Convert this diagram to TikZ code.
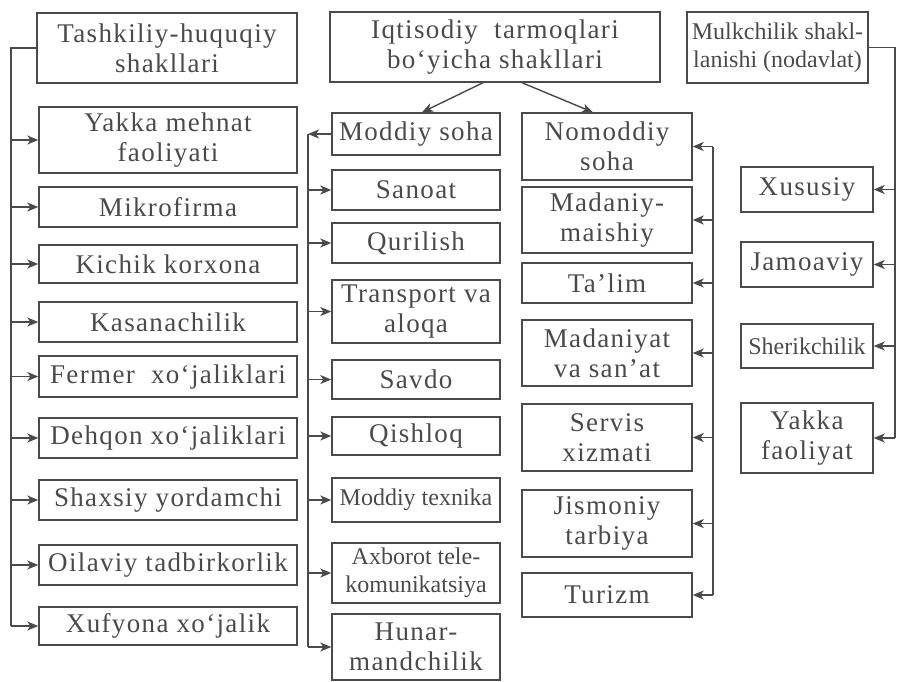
\documentclass[tikz,border=0pt]{standalone}
\usepackage{fontspec}
\setmainfont{Liberation Serif}[LetterSpace=5]
\newfontfamily\plainfont{Liberation Serif}
\usetikzlibrary{arrows.meta}
\definecolor{inkgray}{HTML}{4A4A4A}
\newcommand{\bigtxt}{\fontsize{27}{30}\selectfont}
\newcommand{\smalltxt}{\plainfont\fontsize{24}{28}\selectfont}
\tikzset{
  box/.style={draw=inkgray, line width=1.4pt, text=inkgray, align=center, inner sep=0pt, font=\bigtxt},
  tight/.style={font=\smalltxt},
  link/.style={draw=inkgray, line width=1.4pt}
}

\begin{document}
\begin{tikzpicture}[x=1pt, y=-1pt, >={Stealth[length=11pt, width=9pt, inset=3pt]}]
      \useasboundingbox (0, 0) rectangle (897, 681);
      \node [box, minimum width=260, minimum height=70] (th) at (167, 48) {Tashkiliy-huquqiy\\shakllari};
      \node [box, minimum width=258, minimum height=66] (ym) at (168, 140) {Yakka mehnat\\faoliyati};
      \node [box, minimum width=258, minimum height=40] (mf) at (168, 207) {Mikrofirma};
      \node [box, minimum width=258, minimum height=38] (kk) at (168, 264) {Kichik korxona};
      \node [box, minimum width=258, minimum height=40] (ks) at (168, 322) {Kasanachilik};
      \node [box, minimum width=258, minimum height=41] (fx) at (168, 376.5) {Fermer\ \ xo‘jaliklari};
      \node [box, minimum width=258, minimum height=40] (dx) at (168, 438) {Dehqon xo‘jaliklari};
      \node [box, minimum width=258, minimum height=40] (sy) at (168, 500) {Shaxsiy yordamchi};
      \node [box, minimum width=258, minimum height=40] (ot) at (168, 565) {Oilaviy tadbirkorlik};
      \node [box, minimum width=258, minimum height=38] (xx) at (168, 626) {Xufyona xo‘jalik};

      \node [box, minimum width=330, minimum height=70] (iq) at (495, 47) {Iqtisodiy\ \ tarmoqlari\\bo‘yicha shakllari};
      \node [box, minimum width=168, minimum height=42] (ms) at (416, 134) {Moddiy soha};
      \node [box, minimum width=168, minimum height=40] (sn) at (416, 190) {Sanoat};
      \node [box, minimum width=168, minimum height=40] (qu) at (416, 243) {Qurilish};
      \node [box, minimum width=168, minimum height=63] (tr) at (416, 311.5) {Transport va\\aloqa};
      \node [box, minimum width=168, minimum height=39] (sv) at (416, 379.5) {Savdo};
      \node [box, minimum width=168, minimum height=38] (qi) at (416, 436) {Qishloq};
      \node [box, tight, minimum width=168, minimum height=44] (mt) at (416, 500) {Moddiy texnika};
      \node [box, tight, minimum width=168, minimum height=60] (ax) at (416, 573) {Axborot tele-\\komunikatsiya};
      \node [box, minimum width=168, minimum height=66] (hu) at (416, 647) {Hunar-\\mandchilik};

      \node [box, minimum width=170, minimum height=67] (nm) at (607, 146.5) {Nomoddiy\\soha};
      \node [box, minimum width=170, minimum height=66] (mm) at (607, 220) {Madaniy-\\maishiy};
      \node [box, minimum width=170, minimum height=40] (tl) at (607, 283) {Ta’lim};
      \node [box, minimum width=170, minimum height=66] (mn) at (607, 353) {Madaniyat\\va san’at};
      \node [box, minimum width=170, minimum height=67] (sx) at (607, 437.5) {Servis\\xizmati};
      \node [box, minimum width=170, minimum height=67] (jt) at (607, 523.5) {Jismoniy\\tarbiya};
      \node [box, minimum width=170, minimum height=44] (tu) at (607, 595) {Turizm};

      \node [box, tight, minimum width=181, minimum height=71] (mk) at (777.5, 47.5) {Mulkchilik shakl-\\lanishi (nodavlat)};
      \node [box, minimum width=132, minimum height=45] (xu) at (807, 189.5) {Xususiy};
      \node [box, minimum width=132, minimum height=45] (ja) at (807, 264.5) {Jamoaviy};
      \node [box, tight, minimum width=132, minimum height=44] (sh) at (807, 346) {Sherikchilik};
      \node [box, minimum width=132, minimum height=70] (yf) at (807, 438) {Yakka\\faoliyat};

      \coordinate (lbot) at (11, 626);
      \coordinate (mtop) at (308, 134);
      \coordinate (mbot) at (308, 647);
      \coordinate (ntop) at (713, 146.5);
      \coordinate (nbot) at (713, 595);
      \coordinate (fbot) at (895, 438);

      \draw [link] (th.west) -| (lbot);
      \foreach \n in {ym, mf, kk, ks, fx, dx, sy, ot, xx}
        \draw [link, ->] (lbot |- \n.west) -- (\n.west);

      \draw [link, ->] ([xshift=-12]iq.south) -- ([xshift=6]ms.north);
      \draw [link, ->] ([xshift=27]iq.south) -- ([xshift=-14]nm.north);

      \draw [link, ->] (ms.west) -- (mtop);
      \draw [link] (mtop) -- (mbot);
      \foreach \n in {sn, qu, tr, sv, qi, mt, ax, hu}
        \draw [link, ->] (mtop |- \n.west) -- (\n.west);

      \draw [link] (ntop) -- (nbot);
      \foreach \n in {nm, mm, tl, mn, sx, jt, tu}
        \draw [link, ->] (ntop |- \n.east) -- (\n.east);

      \draw [link] (mk.east) -| (fbot);
      \foreach \n in {xu, ja, sh, yf}
        \draw [link, ->] (fbot |- \n.east) -- (\n.east);
    \end{tikzpicture}
\end{document}
